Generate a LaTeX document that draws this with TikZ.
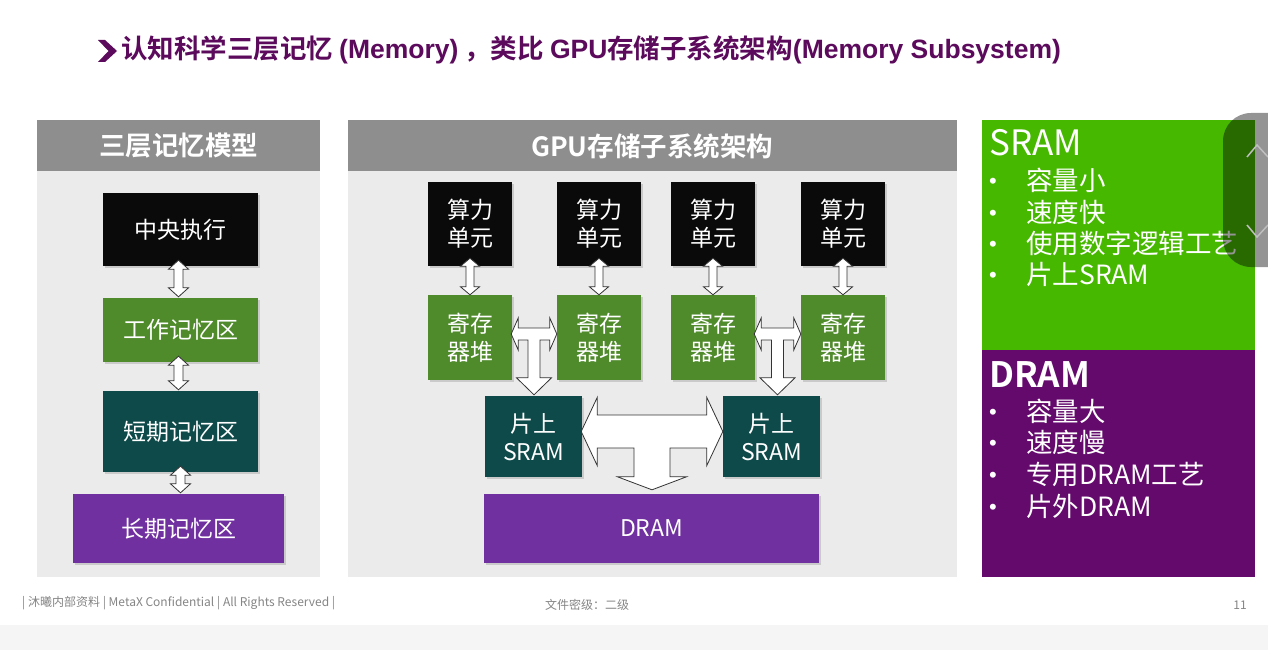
\documentclass[tikz,border=0pt]{standalone}
\usepackage{fontspec}
\setmainfont{Noto Sans CJK SC}[BoldFont={Noto Sans CJK SC Bold}]
\newfontfamily\lat{Liberation Sans}
\usetikzlibrary{calc,shadows}
\definecolor{titlepurple}{HTML}{5B0A5C}
\definecolor{hdrgray}{HTML}{8E8E8E}
\definecolor{panelgray}{HTML}{EBEBEC}
\definecolor{boxblack}{HTML}{0A0A0A}
\definecolor{boxgreen}{HTML}{4F8A2B}
\definecolor{boxteal}{HTML}{0E4A4A}
\definecolor{boxpurple}{HTML}{7030A0}
\definecolor{sramgreen}{HTML}{47B800}
\definecolor{drampurple}{HTML}{640A6C}
\definecolor{footgray}{HTML}{858585}
\newcommand\myfs[2]{\fontsize{#1}{#2}\selectfont}
\newcommand\vdarrow[5]{%
  \draw[blockarrow] let \p1=(#1), \p2=(#2) in
    (\x1,\y1) -- (\x1+#4,\y1-#5) -- (\x1+#3,\y1-#5) -- (\x1+#3,\y2+#5) -- (\x1+#4,\y2+#5)
    -- (\x1,\y2) -- (\x1-#4,\y2+#5) -- (\x1-#3,\y2+#5) -- (\x1-#3,\y1-#5) -- (\x1-#4,\y1-#5) -- cycle;}
\newcommand\tarrow[9]{%
  \draw[blockarrow] let \p1=(#1), \p2=(#2), \p3=(#3), \p4=($(\p1)!0.5!(\p2)$) in
    (\x1,\y1) -- (\x1+#6,\y1+#5) -- (\x1+#6,\y1+#4) -- (\x2-#6,\y1+#4) -- (\x2-#6,\y1+#5)
    -- (\x2,\y1) -- (\x2-#6,\y1-#5) -- (\x2-#6,\y1-#4) -- (\x4+#7,\y1-#4) -- (\x4+#7,\y3+#9)
    -- (\x4+#8,\y3+#9) -- (\x4,\y3) -- (\x4-#8,\y3+#9) -- (\x4-#7,\y3+#9) -- (\x4-#7,\y1-#4)
    -- (\x1+#6,\y1-#4) -- (\x1+#6,\y1-#5) -- cycle;}
\newcommand\bul{\makebox[37pt][l]{\raisebox{0.05em}{\lat\myfs{22}{26}•}}}
\begin{document}
\begin{tikzpicture}[x=1pt,y=-1pt,
  box/.style={draw=none, text=white, align=center, inner sep=0pt,
    font=\myfs{23}{28}, drop shadow={opacity=0.3,shadow xshift=1.5pt,shadow yshift=-1.5pt}},
  blockarrow/.style={fill=white, draw=black!80, line width=0.8pt, line join=miter},
  hdr/.style={text=white, font=\bfseries\myfs{26.5}{30}, inner sep=0pt},
  item/.style={text=white, anchor=west, inner sep=0pt, font=\myfs{26.5}{30}},
  foot/.style={text=footgray, inner sep=0pt, font=\myfs{12}{14}}]
\useasboundingbox (0,0) rectangle (1268,650);
\fill[white] (0,0) rectangle (1268,625);
\fill[black!4] (0,625) rectangle (1268,650);

% title
\fill[titlepurple] (98,40) -- (105,40) -- (117,51) -- (105,62) -- (98,62) -- (108.5,51) -- cycle;
\node[anchor=west, inner sep=0pt, text=titlepurple, font=\bfseries\myfs{26.5}{30}] (title) at (121,50)
  {认知科学三层记忆 {\lat (Memory)} ，类比 {\lat GPU}存储子系统架构{\lat (Memory Subsystem)}};

% left panel
\fill[panelgray] (37,171) rectangle (320,577);
\fill[hdrgray] (37,120) rectangle (320,171);
\node[hdr] (lh) at (178.5,146) {三层记忆模型};
\node[box, fill=boxblack, minimum width=155pt, minimum height=73pt] (cex) at (180.5,229.5) {中央执行};
\node[box, fill=boxgreen, minimum width=155pt, minimum height=64pt] (work) at (180.5,330) {工作记忆区};
\node[box, fill=boxteal, minimum width=155pt, minimum height=81pt] (short) at (180.5,431.5) {短期记忆区};
\node[box, fill=boxpurple, minimum width=211pt, minimum height=69pt] (long) at (178.5,528.5) {长期记忆区};
\vdarrow{$(cex.south)+(-2,-6)$}{$(work.north)+(-2,-1)$}{4.5pt}{10pt}{9pt}
\vdarrow{$(work.south)+(-2,-6)$}{$(short.north)+(-2,-1)$}{4.5pt}{10pt}{9pt}
\vdarrow{$(short.south)+(0,-6)$}{$(long.north)+(0,-1)$}{4.5pt}{10pt}{9pt}

% middle panel
\fill[panelgray] (348,171) rectangle (957,577);
\fill[hdrgray] (348,120) rectangle (957,171);
\node[hdr] (mh) at (652,146) {GPU存储子系统架构};
\foreach \i/\x in {1/470,2/599,3/713,4/843}{
  \node[box, fill=boxblack, minimum width=84pt, minimum height=84pt] (cu\i) at (\x,224) {算力\\单元};
  \node[box, fill=boxgreen, minimum width=84pt, minimum height=85pt] (rg\i) at (\x,337.5) {寄存\\器堆};
  \vdarrow{$(cu\i.south)+(0,-8)$}{$(rg\i.north)+(0,0)$}{4pt}{9.5pt}{8pt}
}
\node[box, fill=boxteal, minimum width=97pt, minimum height=81pt] (s1) at (533.5,436.5) {片上\\SRAM};
\node[box, fill=boxteal, minimum width=97pt, minimum height=81pt] (s2) at (771.5,436.5) {片上\\SRAM};
\node[box, fill=boxpurple, minimum width=335pt, minimum height=69pt] (dram) at (651.5,528.5) {DRAM};
\tarrow{$(rg1.east)+(-1,-3.5)$}{$(rg2.west)+(0,-3.5)$}{$(s1.north)+(0,-1)$}{6pt}{16pt}{7pt}{6pt}{17.5pt}{17pt}
\tarrow{$(rg3.east)+(-1,-3.5)$}{$(rg4.west)+(0,-3.5)$}{$(s2.north)+(0,-1)$}{6pt}{16pt}{7pt}{6pt}{17.5pt}{17pt}
\tarrow{$(s1.east)+(-1,-5)$}{$(s2.west)+(0,-5)$}{$(dram.north)+(0,-4)$}{16.5pt}{34pt}{16pt}{18pt}{34.5pt}{13pt}

% right panel
\fill[sramgreen] (982,120) rectangle (1255,350);
\fill[drampurple] (982,350) rectangle (1255,577);
\node[anchor=west, inner sep=0pt, text=white, font=\myfs{35}{40}] (sramt) at (989,143) {SRAM};
\node[item] (sr1) at (989,180) {\bul 容量小};
\node[item] (sr2) at (989,212) {\bul 速度快};
\node[item] (sr3) at (989,243) {\bul 使用数字逻辑工艺};
\node[item] (sr4) at (989,274) {\bul 片上SRAM};
\node[anchor=west, inner sep=0pt, text=white, font=\bfseries\myfs{35}{40}] (dramt) at (989,375) {DRAM};
\node[item] (dr1) at (989,411) {\bul 容量大};
\node[item] (dr2) at (989,442) {\bul 速度慢};
\node[item] (dr3) at (989,474) {\bul 专用DRAM工艺};
\node[item] (dr4) at (989,506) {\bul 片外DRAM};

% scroll overlay
\begin{scope}
  \clip (0,0) rectangle (1268,650);
  \fill[black, opacity=0.42, rounded corners=28pt] (1223,113) rectangle (1310,267);
\end{scope}
\draw[black!25, line width=1.5pt] (1247,157) -- (1257,145) -- (1268,157);
\draw[black!25, line width=1.5pt] (1247,225) -- (1257,237) -- (1268,225);

% footer
\node[foot, anchor=west] (f1) at (22,603) {| 沐曦内部资料 | MetaX Confidential | All Rights Reserved |};
\node[foot] (f2) at (587,605) {文件密级：二级};
\node[foot] (f3) at (1240,605) {11};
\end{tikzpicture}
\end{document}
